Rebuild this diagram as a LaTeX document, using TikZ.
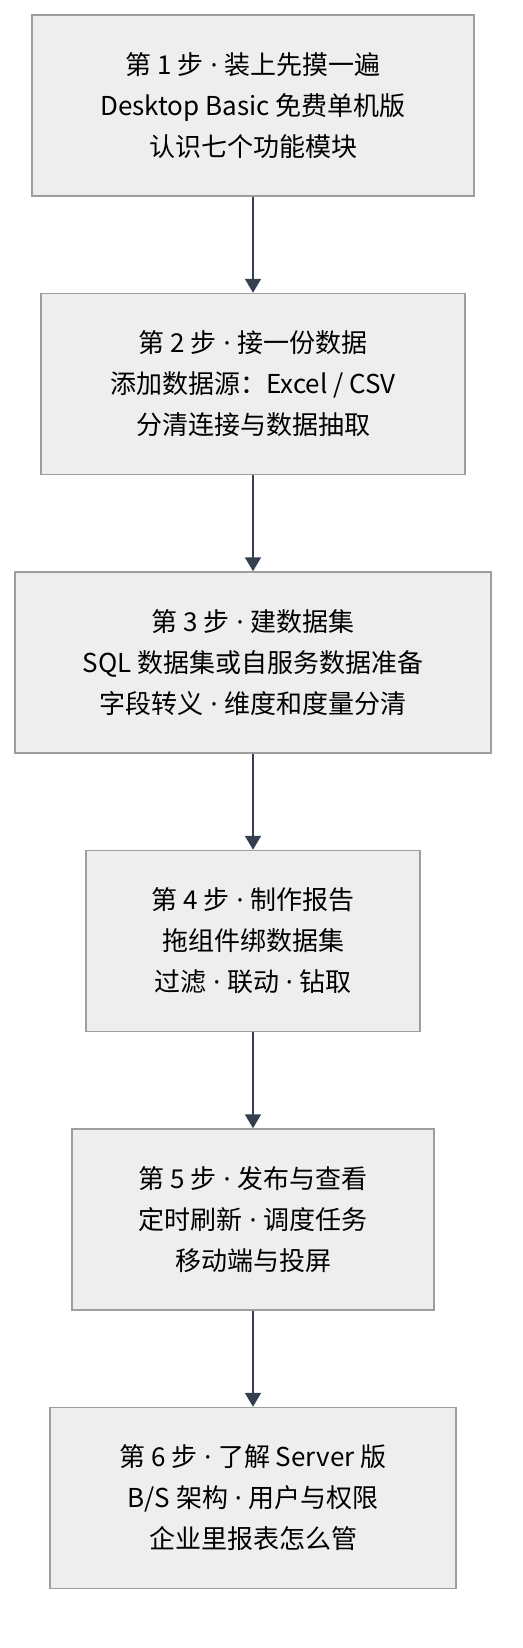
\documentclass[tikz,border=0pt]{standalone}
\usepackage{fontspec}
\setmainfont{Noto Sans CJK SC}
\newfontfamily\latinfont{Noto Sans}
\newcommand{\dt}{{\latinfont\ ·\ }}
\usetikzlibrary{arrows.meta,positioning}
\definecolor{boxfill}{HTML}{EEEEEE}
\definecolor{boxline}{HTML}{9E9E9E}
\definecolor{arrowcol}{HTML}{34404F}
\begin{document}
\begin{tikzpicture}[
    x=1pt, y=-1pt,
    stepbox/.style={
    rectangle,
    draw=boxline,
    fill=boxfill,
    line width=1.5pt,
    inner sep=0pt,
    minimum height=181pt,
    align=center,
    font=\fontsize{26}{41}\selectfont},
    myarrow/.style={-{Triangle[width=16pt,length=14pt]},draw=arrowcol,line width=2pt},
    node distance=96pt
    ]
    \useasboundingbox (0,0) rectangle (522,1648);

    \node[stepbox, minimum width=442pt] (s1) at (253,105.5) {第 1 步\dt 装上先摸一遍\\Desktop Basic 免费单机版\\认识七个功能模块};
    \node[stepbox, minimum width=424pt, below= of s1] (s2) {第 2 步\dt 接一份数据\\添加数据源：Excel / CSV\\分清连接与数据抽取};
    \node[stepbox, minimum width=476pt, below= of s2] (s3) {第 3 步\dt 建数据集\\SQL 数据集或自服务数据准备\\字段转义\dt 维度和度量分清};
    \node[stepbox, minimum width=334pt, below= of s3] (s4) {第 4 步\dt 制作报告\\拖组件绑数据集\\过滤\dt 联动\dt 钻取};
    \node[stepbox, minimum width=362pt, below= of s4] (s5) {第 5 步\dt 发布与查看\\定时刷新\dt 调度任务\\移动端与投屏};
    \node[stepbox, minimum width=406pt, below= of s5] (s6) {第 6 步\dt 了解 Server 版\\B/S 架构\dt 用户与权限\\企业里报表怎么管};

    \draw[myarrow] (s1) -- (s2);
    \draw[myarrow] (s2) -- (s3);
    \draw[myarrow] (s3) -- (s4);
    \draw[myarrow] (s4) -- (s5);
    \draw[myarrow] (s5) -- (s6);
\end{tikzpicture}
\end{document}
